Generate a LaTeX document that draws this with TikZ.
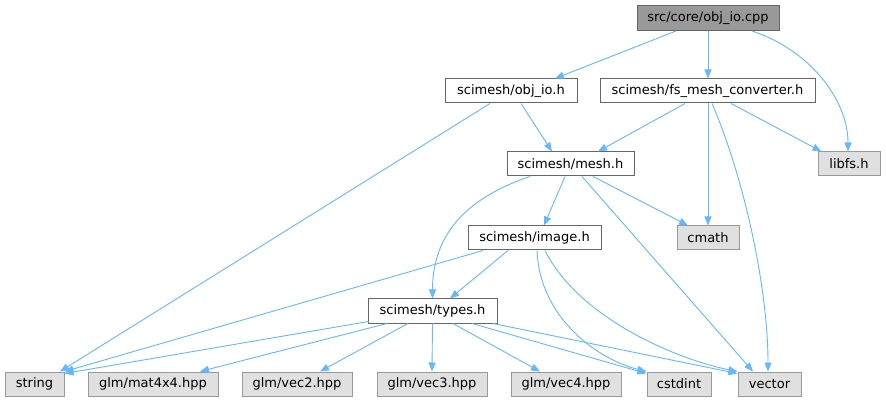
\documentclass[tikz,border=0pt]{standalone}
\usepackage{fontspec}
\setmainfont{DejaVu Sans}
\usetikzlibrary{arrows.meta}
\definecolor{edgeblue}{HTML}{63B8FF}
\definecolor{rootfill}{HTML}{999999}
\definecolor{darkborder}{HTML}{666666}
\definecolor{extfill}{HTML}{E0E0E0}
\definecolor{extborder}{HTML}{999999}
\begin{document}
\begin{tikzpicture}[x=1pt,y=-1pt,
  box/.style={draw=darkborder,line width=1pt,inner sep=0pt,minimum height=24pt,
    font=\fontsize{13}{15}\selectfont,anchor=center},
  rootbox/.style={box,fill=rootfill,minimum height=25pt},
  intbox/.style={box,fill=white},
  extbox/.style={box,draw=extborder,fill=extfill},
  edge/.style={draw=edgeblue,line width=0.9pt,-{Triangle[length=9pt,width=7pt]}}]
\fill[white] (0,0) rectangle (886,403);
\useasboundingbox (0,0) rectangle (886,403);

\node[rootbox,minimum width=142pt] (cpp) at (708,18) {src/core/obj\_io.cpp};
\node[intbox,minimum width=132pt] (objio) at (511,91) {scimesh/obj\_io.h};
\node[intbox,minimum width=215pt] (fsmc) at (707.5,91) {scimesh/fs\_mesh\_converter.h};
\node[extbox,minimum width=62pt] (libfs) at (849,164) {libfs.h};
\node[intbox,minimum width=127pt] (mesh) at (570.5,164) {scimesh/mesh.h};
\node[extbox,minimum width=62pt] (cmath) at (708,238) {cmath};
\node[intbox,minimum width=133pt] (image) at (534.5,238) {scimesh/image.h};
\node[intbox,minimum width=129pt] (types) at (432.5,311) {scimesh/types.h};
\node[extbox,minimum width=59pt] (string) at (34.5,384) {string};
\node[extbox,minimum width=130pt] (mat) at (153,384) {glm/mat4x4.hpp};
\node[extbox,minimum width=110pt] (vectwo) at (297,384) {glm/vec2.hpp};
\node[extbox,minimum width=110pt] (vecthree) at (432,384) {glm/vec3.hpp};
\node[extbox,minimum width=110pt] (vecfour) at (566,384) {glm/vec4.hpp};
\node[extbox,minimum width=64pt] (cstdint) at (679,384) {cstdint};
\node[extbox,minimum width=63pt] (vector) at (769.5,384) {vector};

% root
\draw[edge] ([xshift=-32pt]cpp.south) -- ([xshift=44pt]objio.north);
\draw[edge] (cpp.south) -- ([xshift=0.5pt]fsmc.north);
\draw[edge] ([xshift=44pt]cpp.south) .. controls (810,50) and (848,100) .. ([xshift=-1pt]libfs.north);
% obj_io.h
\draw[edge] ([xshift=10pt]objio.south) -- ([xshift=-18.5pt]mesh.north);
\draw[edge] ([xshift=-21pt]objio.south) -- ([xshift=25.5pt]string.north);
% fs_mesh_converter.h
\draw[edge] ([xshift=-22.5pt]fsmc.south) -- ([xshift=27.5pt]mesh.north);
\draw[edge] ([xshift=0.5pt]fsmc.south) -- (cmath.north);
\draw[edge] ([xshift=4.5pt]fsmc.south) .. controls (745,180) and (768,290) .. ([xshift=-1.5pt]vector.north);
\draw[edge] ([xshift=23.5pt]fsmc.south) -- ([xshift=4pt]libfs.north west);
% mesh.h
\draw[edge] ([xshift=-5.5pt]mesh.south) -- ([xshift=9.5pt]image.north);
\draw[edge] ([xshift=-40.5pt]mesh.south) .. controls (460,200) and (432.5,240) .. (types.north);
\draw[edge] ([xshift=22.5pt]mesh.south) -- ([xshift=-20pt]cmath.north);
\draw[edge] ([xshift=11.5pt]mesh.south) -- ([xshift=-16.5pt]vector.north);
% image.h
\draw[edge] ([xshift=-26.5pt]image.south) -- ([xshift=17.5pt]types.north);
\draw[edge] ([xshift=-51.5pt]image.south) -- (string.north east);
\draw[edge] ([xshift=2.5pt]image.south) .. controls (540,320) and (600,360) .. (cstdint.north west);
\draw[edge] ([xshift=10.5pt]image.south) .. controls (580,320) and (680,360) .. (vector.north west);
% types.h
\draw[edge] ([xshift=1pt,yshift=2pt]types.south west) -- ([yshift=-2pt]string.north east);
\draw[edge] ([xshift=-45.5pt]types.south) -- ([xshift=47pt]mat.north);
\draw[edge] ([xshift=-24.5pt]types.south) -- ([xshift=23pt]vectwo.north);
\draw[edge] (types.south) -- (vecthree.north);
\draw[edge] ([xshift=20.5pt]types.south) -- ([xshift=-26pt]vecfour.north);
\draw[edge] ([xshift=39.5pt]types.south) -- ([yshift=-2pt]cstdint.north west);
\draw[edge] ([xshift=60.5pt]types.south) -- ([yshift=-2pt]vector.north west);
\end{tikzpicture}
\end{document}
